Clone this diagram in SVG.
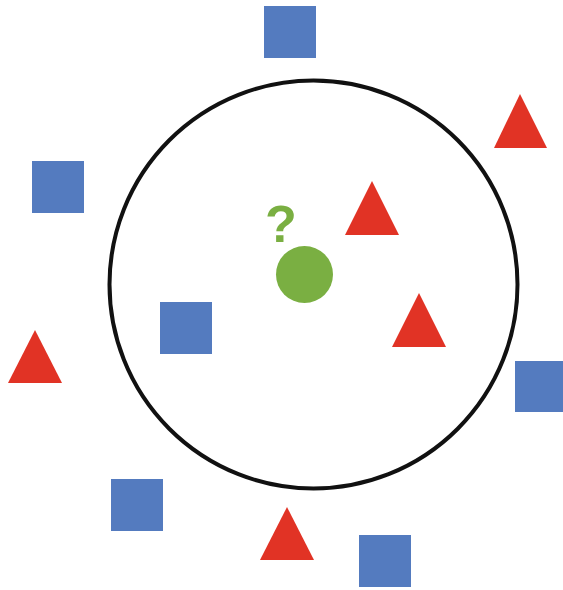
<svg xmlns="http://www.w3.org/2000/svg" width="563" height="590" viewBox="0 0 563 590">
<style>
.sq{fill:#547BBF}
.tri{fill:#E13325}
</style>
<rect width="563" height="590" fill="#fff"/>
<g id="boundary"><circle cx="313.5" cy="284.5" r="204" fill="none" stroke="#111" stroke-width="4"/></g>
<g id="query">
<circle cx="304.5" cy="274.5" r="28.5" fill="#7AAF42"/>
<text x="281" y="242" font-family="Liberation Sans, Arial, sans-serif" font-weight="bold" font-size="52" fill="#7AAF42" text-anchor="middle">?</text>
</g>
<g id="sq1"><rect class="sq" x="264" y="6" width="52" height="52"/></g>
<g id="sq2"><rect class="sq" x="32" y="161" width="52" height="52"/></g>
<g id="sq3"><rect class="sq" x="160" y="302" width="52" height="52"/></g>
<g id="sq4"><rect class="sq" x="515" y="361" width="52" height="51"/></g>
<g id="sq5"><rect class="sq" x="111" y="479" width="52" height="52"/></g>
<g id="sq6"><rect class="sq" x="359" y="535" width="52" height="52"/></g>
<g id="tri1"><polygon class="tri" points="520,94 547,148 494,148"/></g>
<g id="tri2"><polygon class="tri" points="372,181 399,235 345,235"/></g>
<g id="tri3"><polygon class="tri" points="419,293 446,347 392,347"/></g>
<g id="tri4"><polygon class="tri" points="35,330 62,383 8,383"/></g>
<g id="tri5"><polygon class="tri" points="287,507 314,560 260,560"/></g>
</svg>
